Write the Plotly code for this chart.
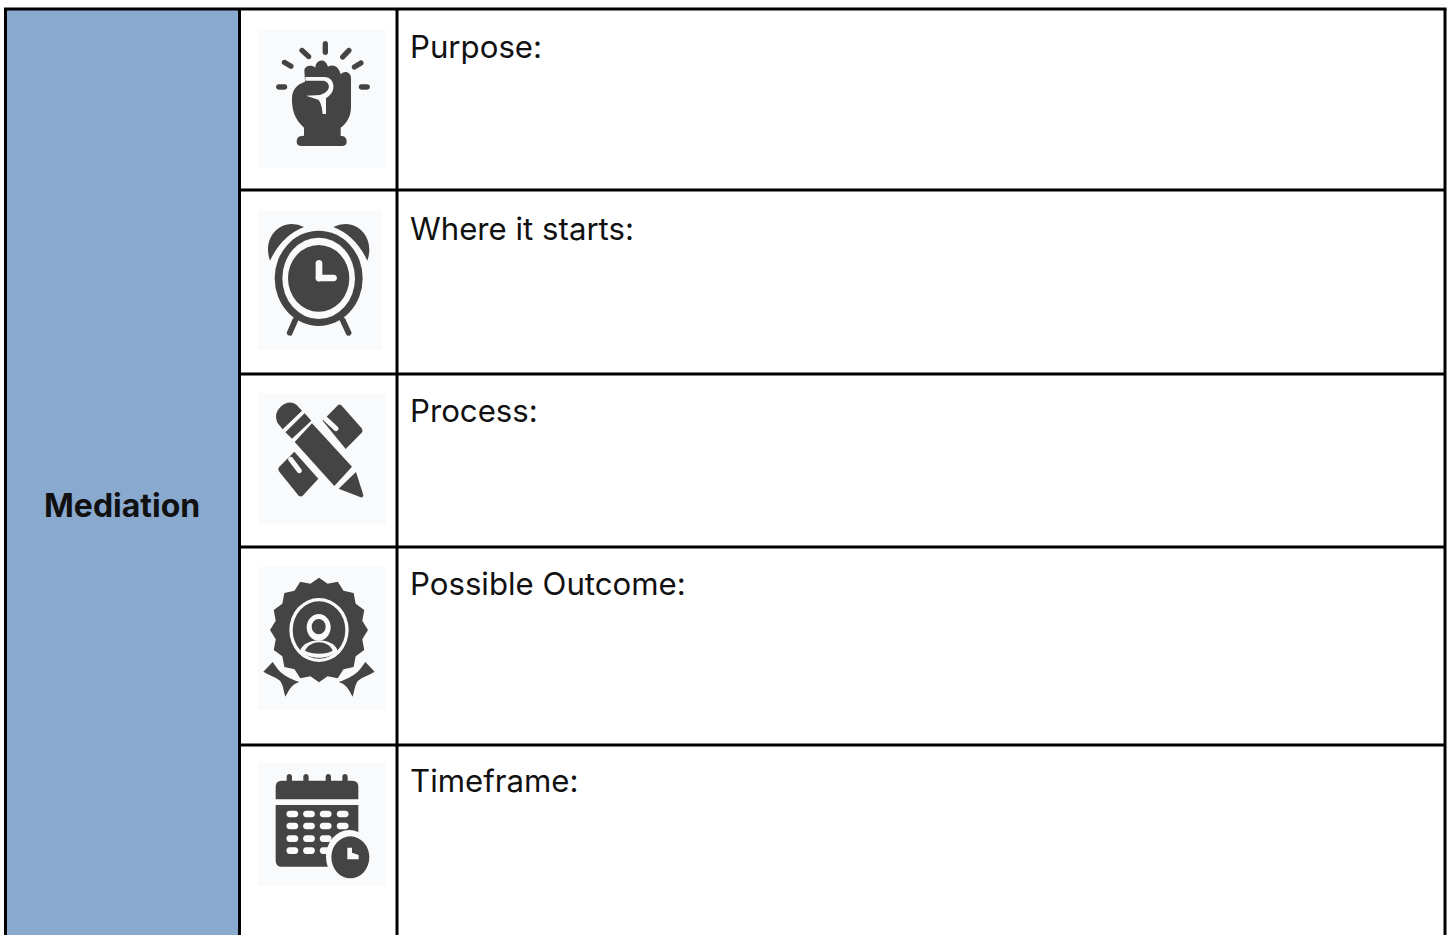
import re
import math
import plotly.graph_objects as go

# ---- table content ----
heading = "Mediation"
row_labels = ["Purpose:", "Where it starts:", "Process:", "Possible Outcome:", "Timeframe:"]
row_label_y = [47, 229, 411, 584, 781]
row_rules = [190, 374, 547, 745]
col_rules = [239.5, 397]
WIDTH, HEIGHT = 1450, 935
LEFT, TOP, RIGHT = 5.5, 9, 1445

HEAD_FILL = "#8aa9cf"
DARK = "#444444"
ICON_BG = "#f9fafc"
TEXT_FONT = "Inter, Roboto, sans-serif"
TEXT_SIZE = 31.2

shapes = []


def add_path(path, fill=DARK, line_color=None, line_width=0):
    shapes.append(dict(type="path", xref="x", yref="y", path=path, fillcolor=fill,
                       line=dict(color=line_color or fill, width=line_width), layer="above"))


class Icon:
    """Icon artwork, drawn in a 3x local grid and mapped onto the page."""

    def __init__(self, ox, oy):
        self.ox, self.oy = ox, oy

    def X(self, v):
        return self.ox + v / 3

    def Y(self, v):
        return self.oy + v / 3

    def path(self, d, fill=DARK):
        toks = re.findall(r"[MLCQZ]|-?\d+\.?\d*", d)
        out, is_x = [], True
        for t in toks:
            if t in "MLCQZ":
                out.append(t)
                is_x = True
            else:
                val = self.X(float(t)) if is_x else self.Y(float(t))
                out.append(f"{val:.2f}")
                is_x = not is_x
        add_path(" ".join(out), fill)

    def capsule(self, x1, y1, x2, y2, w, fill=DARK):
        dx, dy = x2 - x1, y2 - y1
        n = math.hypot(dx, dy) or 1
        ux, uy = dx / n, dy / n
        px, py = -uy * w / 2, ux * w / 2
        ex, ey = ux * w * 0.65, uy * w * 0.65
        self.path(
            f"M {x1+px} {y1+py} L {x2+px} {y2+py} "
            f"C {x2+px+ex} {y2+py+ey} {x2-px+ex} {y2-py+ey} {x2-px} {y2-py} "
            f"L {x1-px} {y1-py} "
            f"C {x1-px-ex} {y1-py-ey} {x1+px-ex} {y1+py-ey} {x1+px} {y1+py} Z",
            fill,
        )

    def ellipse(self, cx, cy, rx, ry, fill=DARK):
        shapes.append(dict(type="circle", xref="x", yref="y",
                           x0=self.X(cx - rx), x1=self.X(cx + rx),
                           y0=self.Y(cy - ry), y1=self.Y(cy + ry),
                           fillcolor=fill, line=dict(width=0), layer="above"))


def icon_bg(x0, y0, x1, y1):
    shapes.append(dict(type="rect", xref="x", yref="y", x0=x0, x1=x1, y0=y0, y1=y1,
                       fillcolor=ICON_BG, line=dict(width=0), layer="below"))


# ---- table frame ----
shapes.append(dict(type="rect", xref="x", yref="y", x0=LEFT, x1=col_rules[0], y0=TOP, y1=HEIGHT + 5,
                   fillcolor=HEAD_FILL, line=dict(width=0), layer="below"))
icon_bg(258, 29, 386, 168)
icon_bg(258, 211, 382, 350)
icon_bg(258, 393, 386, 524)
icon_bg(258, 567, 386, 710)
icon_bg(258, 763, 386, 886)


def rule(x0, y0, x1, y1):
    shapes.append(dict(type="line", xref="x", yref="y", x0=x0, x1=x1, y0=y0, y1=y1,
                       line=dict(color="#000000", width=3), layer="above"))


rule(LEFT - 1.5, TOP, RIGHT + 1.5, TOP)
for yr in row_rules:
    rule(col_rules[0], yr, RIGHT, yr)
for xr in [LEFT] + col_rules + [RIGHT]:
    rule(xr, TOP, xr, HEIGHT + 5)

# ---- fist icon ----
a = Icon(250, 15)
for r in [(226, 86, 226, 112), (156, 106, 176, 125), (297, 106, 278, 126), (103, 142, 123, 154),
          (333, 144, 313, 156), (86, 216, 104, 216), (334, 216, 352, 216)]:
    a.capsule(*r, 16)
a.path("M 162 338 C 135 315 125 285 126 250 C 126 225 140 208 165 200 L 163 165 "
       "C 165 152 185 148 196 158 C 196 135 225 125 234 155 C 248 145 268 155 272 178 "
       "C 285 165 303 172 303 190 L 303 275 C 303 305 290 325 272 338 L 272 362 "
       "L 280 364 Q 290 368 290 380 Q 290 393 275 393 L 155 393 Q 140 393 140 380 "
       "Q 140 368 150 364 L 162 362 Z")
a.path("M 166 186 L 222 186 C 245 186 252 205 250 220 C 248 235 235 245 228 250 "
       "L 228 297 L 218 297 C 216 275 212 262 205 254 L 168 242 L 210 240 "
       "C 225 235 240 225 236 210 C 232 198 222 197 215 197 L 166 197 Z", ICON_BG)

# ---- alarm clock icon ----
a.path("M 60 737 C 42 690 65 630 125 627 Q 145 627 162 636 Q 95 662 60 737 Z")
a.path("M 352 737 C 370 690 347 630 287 627 Q 267 627 250 636 Q 317 662 352 737 Z")
a.capsule(136, 915, 119, 954, 17)
a.capsule(278, 915, 296, 954, 17)
a.ellipse(206, 790, 132, 143)
a.ellipse(206, 790, 109, 122, ICON_BG)
a.ellipse(206, 790, 92, 100)
a.capsule(207, 745, 207, 790, 20, ICON_BG)
a.capsule(207, 789, 251, 789, 20, ICON_BG)

# ---- pencil and ruler icon ----
b = Icon(250, 380)
b.path("M 218 122 L 265 74 Q 272 72 278 80 L 335 145 Q 340 152 335 158 L 287 207 Z")
b.capsule(228, 118, 258, 146, 15, ICON_BG)
b.path("M 133 215 L 205 296 L 158 347 Q 152 352 146 347 L 88 275 Q 82 268 88 260 Z")
b.capsule(122, 238, 148, 272, 15, ICON_BG)
b.path("M 98 148 L 82 128 Q 70 100 92 80 Q 118 58 140 75 L 156 92 Z")
b.path("M 106 157 L 164 100 L 184 122 L 126 176 Z")
b.path("M 134 186 L 186 130 L 306 260 L 253 318 Z")
b.path("M 266 326 L 318 276 L 340 345 Q 340 354 332 352 Z")

# ---- badge icon ----
n_teeth = 16
pts = []
for i in range(n_teeth * 2):
    ang = math.pi * i / n_teeth - math.pi / 2
    rad = 1.0 if i % 2 == 0 else 0.9
    pts.append((207 + 147 * rad * math.cos(ang), 750 + 157 * rad * math.sin(ang)))
b.path("M " + " L ".join(f"{x:.1f} {y:.1f}" for x, y in pts) + " Z")
b.path("M 40 875 L 68 846 C 80 860 85 885 148 906 C 125 912 118 930 106 950 C 100 930 100 915 90 902 C 75 890 55 885 40 875 Z")
b.path("M 374 875 L 346 846 C 334 860 329 885 266 906 C 289 912 296 930 308 950 C 314 930 314 915 324 902 C 339 890 359 885 374 875 Z")
b.ellipse(207, 750, 89, 96, ICON_BG)
b.ellipse(207, 750, 79, 86)
b.ellipse(206, 742, 36, 40, ICON_BG)
b.ellipse(206, 740, 21, 23)
b.path("M 150 812 C 165 770 250 770 263 812 C 240 840 175 840 150 812 Z", ICON_BG)
b.path("M 165 812 C 180 778 235 778 248 812 C 230 824 185 824 165 812 Z")

# ---- calendar icon ----
c = Icon(250, 740)
for xr in [118, 168, 235, 285]:
    c.capsule(xr, 110, xr, 130, 16)
c.path("M 77 178 L 77 140 Q 77 122 95 122 L 307 122 Q 325 122 325 140 L 325 178 Z")
c.path("M 77 195 L 325 195 L 325 380 L 95 380 Q 77 380 77 362 Z")
for yr in [222, 258, 296, 332]:
    for xr in [127, 177, 227, 278]:
        c.capsule(xr - 8, yr, xr + 8, yr, 20, ICON_BG)
c.ellipse(298, 350, 70, 80, ICON_BG)
c.ellipse(301, 352, 57, 63)
c.path("M 292 323 L 306 323 L 306 338 L 326 345 L 326 358 L 292 358 Z", ICON_BG)

# ---- text ----
annotations = [dict(x=122, y=505, xref="x", yref="y", text=f"<b>{heading}</b>", showarrow=False,
                    xanchor="center", yanchor="middle",
                    font=dict(family=TEXT_FONT, size=32, color="#111111"))]
for label, yl in zip(row_labels, row_label_y):
    annotations.append(dict(x=408, y=yl, xref="x", yref="y", text=label, showarrow=False,
                            xanchor="left", yanchor="middle",
                            font=dict(family=TEXT_FONT, size=TEXT_SIZE, color="#111111")))

fig = go.Figure()
fig.update_layout(
    width=WIDTH, height=HEIGHT, margin=dict(l=0, r=0, t=0, b=0),
    paper_bgcolor="#ffffff", plot_bgcolor="#ffffff", showlegend=False,
    xaxis=dict(range=[0, WIDTH], visible=False, fixedrange=True),
    yaxis=dict(range=[HEIGHT, 0], visible=False, fixedrange=True),
    shapes=shapes, annotations=annotations,
)
fig.write_html("out.html", post_script="document.body.style.margin='0';",
               config=dict(displayModeBar=False))
